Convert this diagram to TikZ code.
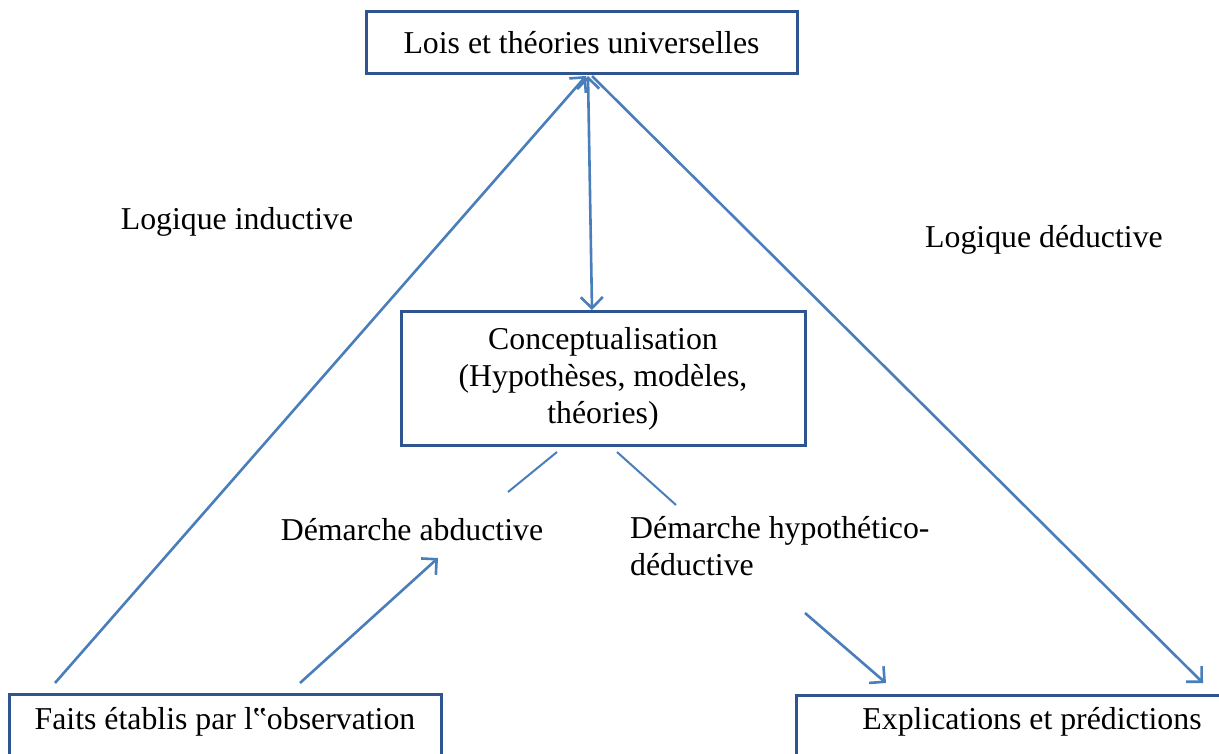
\documentclass[tikz,border=0pt]{standalone}
\usepackage{fontspec}
\setmainfont{Liberation Serif}
\usetikzlibrary{arrows.meta}
\definecolor{boxblue}{HTML}{2F5590}
\definecolor{arrblue}{HTML}{4A7EBB}
\begin{document}
\begin{tikzpicture}[x=1pt,y=-1pt,
  every node/.style={font=\fontsize{31.8}{37}\selectfont, inner sep=0pt},
  box/.style={draw=boxblue, line width=3pt, align=center},
  lbl/.style={align=left},
  conn/.style={draw=arrblue, line width=2.6pt},
  tip/.style={-{Straight Barb[length=11pt,width=22pt,line width=2.6pt]}},
  twotips/.style={{Straight Barb[length=11pt,width=22pt,line width=2.6pt]}-{Straight Barb[length=11pt,width=22pt,line width=2.6pt]}}]
\useasboundingbox (0,0) rectangle (1219,754);
\fill[white] (0,0) rectangle (1219,754);
% boxes
\node[box, minimum width=431pt, minimum height=62pt] (lois) at (581.5,43) {Lois et théories universelles};
\node[box, minimum width=404pt, minimum height=133pt] (concept) at (603,378.5) {Conceptualisation\\(Hypothèses, modèles,\\théories)};
\node[box, minimum width=432pt, minimum height=80pt, anchor=north west] (faits) at (8,693) {};
\node (faitstxt) at (225,722) {Faits établis par l‟observation};
\node[box, minimum width=440pt, minimum height=80pt, anchor=north west] (expl) at (795,694) {};
\node (expltxt) at (1032,722) {Explications et prédictions};
% labels
\node (ind) at (237,222) {Logique inductive};
\node (ded) at (1044,240) {Logique déductive};
\node (abd) at (412,530) {Démarche abductive};
\node[lbl, anchor=north west] (hyp) at (630,516) {Démarche hypothético-\\déductive};
% coordinates
\coordinate (loisL) at (586,76);
\coordinate (loisM) at (588,76);
\coordinate (loisR) at (592,76);
\coordinate (conTop) at (592,310);
\coordinate (faitsA) at (55,683);
\coordinate (faitsB) at (300,683);
\coordinate (abdTip) at (438,558);
\coordinate (explA) at (886,683);
\coordinate (explB) at (1203,683);
\coordinate (hypStart) at (805,613);
\coordinate (cL1) at (557,452);
\coordinate (cL2) at (508,492);
\coordinate (cR1) at (617,452);
\coordinate (cR2) at (676,505);
% connectors
\draw[conn, tip] (faitsA) -- (loisL);
\draw[conn, tip] (loisR) -- (explB);
\draw[conn, twotips] (loisM) -- (conTop);
\draw[conn, line width=2pt] (cL1) -- (cL2);
\draw[conn, line width=2pt] (cR1) -- (cR2);
\draw[conn, tip] (faitsB) -- (abdTip);
\draw[conn, tip] (hypStart) -- (explA);
\end{tikzpicture}
\end{document}
